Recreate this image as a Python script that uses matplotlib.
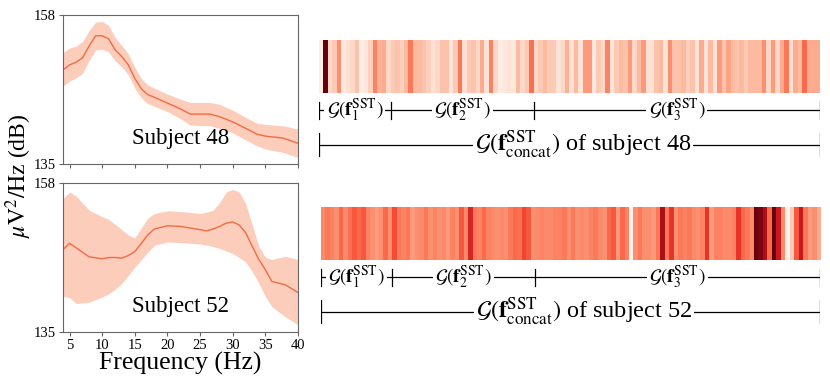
import matplotlib
matplotlib.use("Agg")
import matplotlib.pyplot as plt
import numpy as np

plt.rcParams.update({
    "font.family": ["Liberation Serif", "DejaVu Serif"],
    "mathtext.fontset": "stix",
    "axes.edgecolor": "#666666",
})

# ── spectra ──────────────────────────────────────────────────────────────────
freq48 = [4, 5, 6, 7, 8, 9, 10, 11, 12, 13, 14, 15, 16, 17, 18, 20, 22, 23.5,
          26.5, 28, 30, 32, 33.7, 35, 37.7, 40]
mean48 = [149.5, 150.3, 150.7, 151.4, 153.2, 154.8, 154.8, 154.3, 152.6, 151.6,
          150.3, 148.2, 146.6, 145.7, 145.3, 144.4, 143.5, 142.7, 142.7, 142.3,
          141.5, 140.5, 139.6, 139.3, 139.0, 138.2]
lo48 = [147.0, 147.8, 148.3, 149.0, 151.0, 152.6, 152.7, 152.3, 150.9, 150.0,
        148.8, 146.7, 145.2, 144.3, 143.9, 143.1, 142.0, 141.0, 140.9, 140.5,
        139.8, 138.7, 137.8, 137.3, 136.8, 136.0]
hi48 = [152.2, 152.9, 153.2, 153.9, 155.6, 156.9, 157.0, 156.4, 154.5, 153.3,
        152.0, 149.9, 148.2, 147.2, 146.7, 145.8, 145.0, 144.5, 144.5, 144.2,
        143.3, 142.2, 141.3, 141.1, 140.9, 140.4]

freq52 = [4, 5, 6, 8, 10, 11, 12, 13, 14, 15, 17, 18, 20, 22, 25, 26, 27, 28,
          29, 30, 31, 32, 33, 34, 35, 36, 38, 40]
mean52 = [147.7, 148.7, 148.0, 146.6, 146.3, 146.5, 146.5, 146.4, 146.8, 147.4,
          150.0, 150.9, 151.4, 151.3, 150.8, 150.6, 150.9, 151.3, 151.8, 152.0,
          151.5, 150.3, 148.2, 146.2, 144.6, 142.8, 142.3, 141.1]
lo52 = [140.5, 140.3, 139.4, 139.6, 140.4, 140.9, 141.6, 142.5, 143.7, 145.0,
        147.3, 148.4, 148.9, 148.8, 148.6, 148.4, 148.2, 147.9, 147.5, 147.1,
        146.5, 145.8, 144.3, 142.5, 140.5, 138.9, 137.4, 136.1]
hi52 = [155.6, 156.6, 156.0, 153.8, 152.8, 152.4, 151.6, 150.8, 150.0, 149.5,
        152.6, 153.3, 153.7, 153.6, 153.3, 153.5, 153.8, 155.0, 156.6, 157.0,
        156.6, 154.8, 151.5, 148.2, 146.5, 146.2, 146.7, 146.2]

# ── attention maps G(f_concat^SST), 16 + 32 + 64 cells ───────────────────────
att48 = [0.05, 1.0, 0.15, 0.2, 0.38, 0.08, 0.12, 0.15, 0.22, 0.05, 0.08, 0.18,
         0.42, 0.28, 0.3, 0.15, 0.2, 0.22, 0.18, 0.25, 0.45, 0.25, 0.25, 0.22,
         0.18, 0.12, 0.15, 0.22,
         0.22, 0.1, 0.2, 0.45, 0.12, 0.2, 0.22, 0.15, 0.3, 0.1, 0.42, 0.15,
         0.05, 0.08, 0.1, 0.08, 0.25, 0.15, 0.2, 0.48, 0.15, 0.2, 0.25, 0.2,
         0.2, 0.1, 0.15, 0.28,
         0.12, 0.25, 0.1, 0.35, 0.35, 0.08, 0.2, 0.15, 0.42, 0.1, 0.2, 0.25,
         0.22, 0.35, 0.15, 0.25, 0.35, 0.12, 0.12, 0.22, 0.25, 0.1, 0.38, 0.22,
         0.22, 0.25, 0.18, 0.22,
         0.1, 0.3, 0.1, 0.25, 0.1, 0.35, 0.22, 0.32, 0.25, 0.22, 0.25, 0.2,
         0.25, 0.25, 0.25, 0.38, 0.15, 0.35, 0.15, 0.3, 0.45, 0.12, 0.3, 0.25,
         0.5, 0.3, 0.3, 0.3]
att52 = [0.4, 0.45, 0.42, 0.38, 0.5, 0.4, 0.48, 0.55, 0.5, 0.55, 0.42, 0.38,
         0.35, 0.38, 0.5, 0.38, 0.58, 0.45, 0.42, 0.45, 0.35, 0.38, 0.4, 0.45,
         0.38, 0.42, 0.38, 0.4,
         0.35, 0.42, 0.38, 0.55, 0.4, 0.7, 0.45, 0.42, 0.5, 0.42, 0.4, 0.38,
         0.4, 0.38, 0.45, 0.5, 0.48, 0.6, 0.55, 0.38, 0.4, 0.42, 0.4, 0.4,
         0.42, 0.42, 0.45, 0.38,
         0.45, 0.38, 0.4, 0.38, 0.42, 0.45, 0.4, 0.38, 0.5, 0.55, 0.35, 0.5,
         0.42, 0.02, 0.38, 0.45, 0.38, 0.38, 0.35, 0.45, 0.85, 0.45, 0.65, 0.38,
         0.45, 0.42, 0.45, 0.4,
         0.38, 0.42, 0.65, 0.35, 0.42, 0.42, 0.4, 0.4, 0.42, 0.65, 0.5, 0.45,
         0.4, 1.0, 0.95, 0.85, 0.5, 1.0, 0.75, 0.4, 0.02, 0.2, 0.55, 0.75,
         0.45, 0.35, 0.38, 0.3]
seg_sizes = [16, 32, 64]
seg_labels = [r"$\mathcal{G}(\mathbf{f}_1^{\mathrm{SST}})$",
              r"$\mathcal{G}(\mathbf{f}_2^{\mathrm{SST}})$",
              r"$\mathcal{G}(\mathbf{f}_3^{\mathrm{SST}})$"]
subjects = ["48", "52"]

LINE = "#F26B43"
FILL = "#FDCDBB"
W, H = 830, 390


def px_axes(fig, x0, y0, x1, y1):
    # axes placed by pixel box (top-left origin)
    return fig.add_axes([x0 / W, 1 - y1 / H, (x1 - x0) / W, (y1 - y0) / H])


fig = plt.figure(figsize=(W / 100, H / 100), dpi=100)

spectra = [(freq48, mean48, lo48, hi48), (freq52, mean52, lo52, hi52)]
boxes = [(63, 15, 298, 164), (63, 183, 298, 332)]
for i, ((f, m, lo, hi), box) in enumerate(zip(spectra, boxes)):
    ax = px_axes(fig, *box)
    ax.fill_between(f, lo, hi, color=FILL, lw=0)
    ax.plot(f, m, color=LINE, lw=1)
    ax.set_xlim(4, 40)
    ax.set_ylim(135, 158)
    ax.set_yticks([135, 158])
    ax.set_xticks(range(5, 41, 5))
    ax.tick_params(length=3, color="#666666", labelsize=10.5, pad=2)
    if i == 0:
        ax.tick_params(labelbottom=False)
    else:
        ax.set_xlabel("Frequency (Hz)", fontsize=18.5, labelpad=0)
    ax.text(0.5, 0.1, f"Subject {subjects[i]}", transform=ax.transAxes,
            ha="center", va="bottom", fontsize=16.5)

fig.text(0.022, 0.55, r"$\mu\mathrm{V}^2/\mathrm{Hz}$ (dB)", rotation=90,
         ha="center", va="center", fontsize=17)

# ── attention strips with brackets ───────────────────────────────────────────
n = sum(seg_sizes)
edges = np.concatenate([[0], np.cumsum(seg_sizes)])
strips = [(att48, 319, 40, 93, 110, 145), (att52, 321, 207, 260, 277, 312)]
for j, (vals, x0, y0, y1, r1, r2) in enumerate(strips):
    ax = px_axes(fig, x0, y0, 820, y1)
    ax.imshow(np.array(vals)[None, :], cmap="Reds", vmin=0, vmax=1,
              aspect="auto", interpolation="nearest")
    ax.axis("off")

    an = px_axes(fig, x0, y1, 820, y1 + 70)
    an.set_xlim(0, n)
    an.set_ylim(y1 + 70, y1)
    an.axis("off")
    an.plot([0, n], [r1, r1], color="black", lw=0.9)
    for e in edges:
        an.plot([e, e], [r1 - 8, r1 + 9], color="black", lw=0.9, zorder=5)
    for k, lab in enumerate(seg_labels):
        an.text((edges[k] + edges[k + 1]) / 2, r1, lab, ha="center", va="center",
                fontsize=14, zorder=4,
                bbox=dict(facecolor="white", edgecolor="none", pad=1.5))
    an.plot([0, n], [r2, r2], color="black", lw=0.9)
    for e in [0, n]:
        an.plot([e, e], [r2 - 12, r2 + 11], color="black", lw=0.9)
    an.text(59, r2,
            r"$\mathcal{G}(\mathbf{f}_{\mathrm{concat}}^{\mathrm{SST}})$"
            f" of subject {subjects[j]}",
            ha="center", va="center", fontsize=17.5,
            bbox=dict(facecolor="white", edgecolor="none", pad=1.5))

fig.savefig("out.png", dpi=100)
